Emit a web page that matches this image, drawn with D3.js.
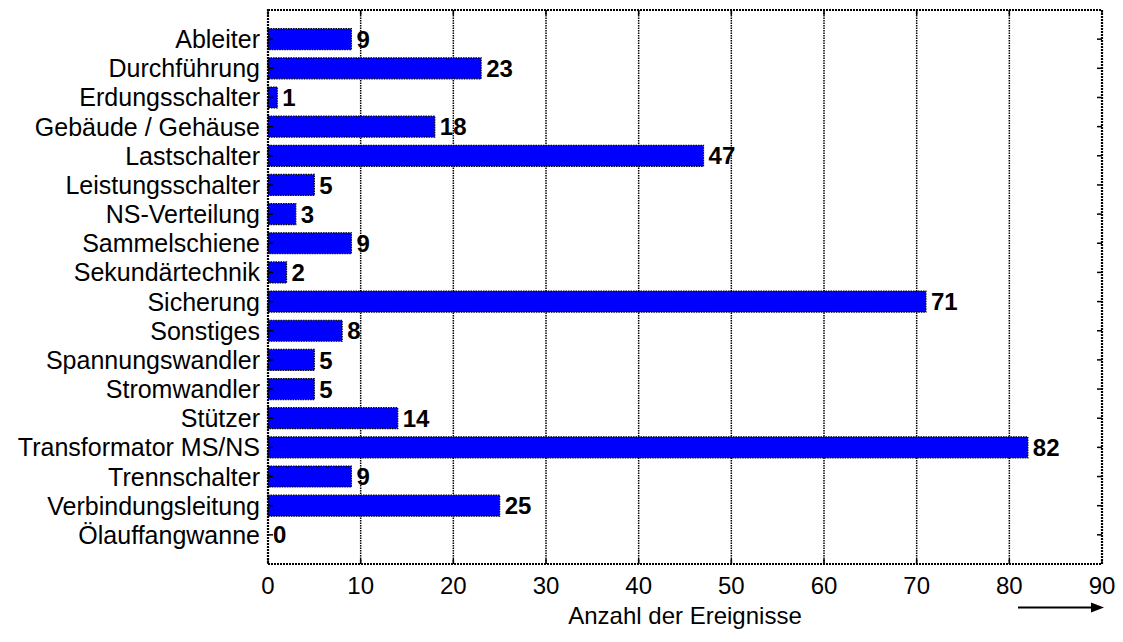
<!DOCTYPE html>
<html>
<head>
<meta charset="utf-8">
<script src="https://cdn.jsdelivr.net/npm/d3@7"></script>
<style>
  body { margin: 0; background: #fff; }
  svg { display: block; }
  text { font-family: Arial, "Liberation Sans", sans-serif; fill: #000; }
</style>
</head>
<body>
<svg id="chart" width="1123" height="642"></svg>
<script>
const categories = ["Ableiter","Durchführung","Erdungsschalter","Gebäude / Gehäuse","Lastschalter","Leistungsschalter","NS-Verteilung","Sammelschiene","Sekundärtechnik","Sicherung","Sonstiges","Spannungswandler","Stromwandler","Stützer","Transformator MS/NS","Trennschalter","Verbindungsleitung","Ölauffangwanne"];
const values = [9,23,1,18,47,5,3,9,2,71,8,5,5,14,82,9,25,0];
const xTicks = [0,10,20,30,40,50,60,70,80,90];
const xLabel = "Anzahl der Ereignisse";

const svg = d3.select("#chart");
const L = 268, R = 1102, T = 10, B = 564;

const x = d3.scaleLinear().domain([0, 90]).range([L, R]);
const y = d3.scaleLinear().domain([0, categories.length + 1]).range([T, B]);
const step = y(1) - y(0);
const barH = step * 0.72;

// gridlines
svg.append("g").selectAll("line").data(xTicks.filter(t => t > 0 && t < 90)).join("line")
  .attr("x1", d => x(d)).attr("x2", d => x(d)).attr("y1", T).attr("y2", B)
  .attr("stroke", "#000").attr("stroke-width", 1.5).attr("stroke-dasharray", "1.5,1");

// bars
svg.append("g").selectAll("rect").data(values).join("rect")
  .attr("x", x(0))
  .attr("y", (d, i) => y(i + 1) - barH / 2)
  .attr("width", d => x(d) - x(0))
  .attr("height", barH)
  .attr("fill", "#0000ff")
  .attr("stroke", "#000").attr("stroke-width", 1.2).attr("stroke-dasharray", "1.5,1");

// value labels
svg.append("g").selectAll("text").data(values).join("text")
  .attr("x", d => x(d) + 5)
  .attr("y", (d, i) => y(i + 1))
  .attr("dy", "0.36em")
  .attr("font-size", 24).attr("font-weight", "bold")
  .text(d => d);

// frame
svg.append("rect").attr("x", L).attr("y", T).attr("width", R - L).attr("height", B - T)
  .attr("fill", "none").attr("stroke", "#000").attr("stroke-width", 2.2).attr("stroke-dasharray", "2,1");

// category ticks (left and right, inward)
const catIdx = d3.range(1, categories.length + 1);
svg.append("g").selectAll("line").data(catIdx).join("line")
  .attr("x1", L).attr("x2", L + 5).attr("y1", d => y(d)).attr("y2", d => y(d))
  .attr("stroke", "#000").attr("stroke-width", 1.5);
svg.append("g").selectAll("line").data(catIdx).join("line")
  .attr("x1", R).attr("x2", R - 5).attr("y1", d => y(d)).attr("y2", d => y(d))
  .attr("stroke", "#000").attr("stroke-width", 1.5);
// x ticks top and bottom
svg.append("g").selectAll("line").data(xTicks).join("line")
  .attr("x1", d => x(d)).attr("x2", d => x(d)).attr("y1", B).attr("y2", B - 5)
  .attr("stroke", "#000").attr("stroke-width", 1.5);
svg.append("g").selectAll("line").data(xTicks).join("line")
  .attr("x1", d => x(d)).attr("x2", d => x(d)).attr("y1", T).attr("y2", T + 5)
  .attr("stroke", "#000").attr("stroke-width", 1.5);

// category labels
svg.append("g").selectAll("text").data(categories).join("text")
  .attr("x", L - 8)
  .attr("y", (d, i) => y(i + 1))
  .attr("dy", "0.36em")
  .attr("text-anchor", "end")
  .attr("font-size", 25)
  .text(d => d);

// x tick labels
svg.append("g").selectAll("text").data(xTicks).join("text")
  .attr("x", d => x(d))
  .attr("y", 594)
  .attr("text-anchor", "middle")
  .attr("font-size", 24)
  .text(d => d);

// x axis label
svg.append("text").attr("x", (L + R) / 2).attr("y", 624)
  .attr("text-anchor", "middle").attr("font-size", 24)
  .text(xLabel);

// arrow
svg.append("line").attr("x1", 1018).attr("x2", 1094).attr("y1", 607.5).attr("y2", 607.5)
  .attr("stroke", "#000").attr("stroke-width", 2);
svg.append("path").attr("d", "M1104,607.5 L1091,602.5 L1091,612.5 Z").attr("fill", "#000");
</script>
</body>
</html>
